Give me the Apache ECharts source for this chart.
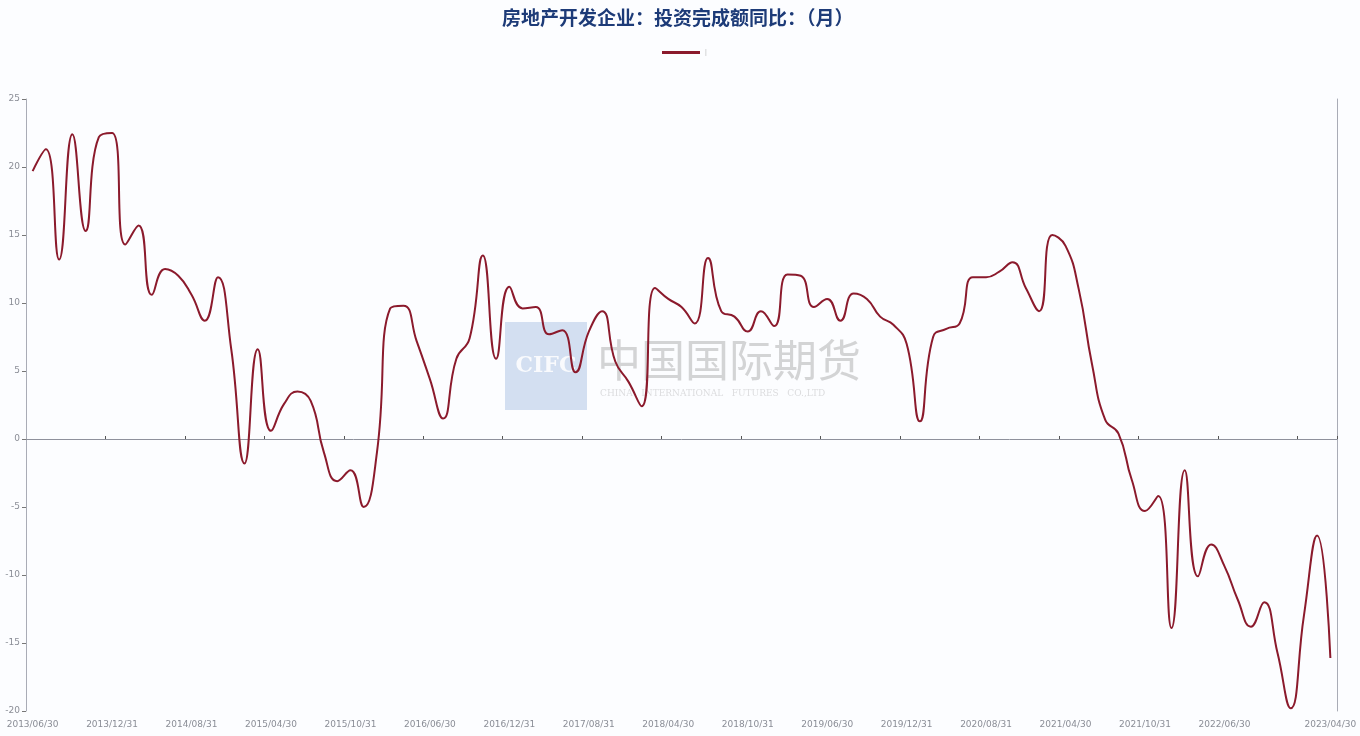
<!DOCTYPE html>
<html>
<head>
<meta charset="utf-8">
<script src="https://cdn.jsdelivr.net/npm/echarts@6/dist/echarts.min.js"></script>
<style>
html,body{margin:0;padding:0;background:#fcfdff;}
#c{width:1360px;height:736px;}
</style>
</head>
<body>
<div id="c"></div>
<script>
var titleText = '房地产开发企业：投资完成额同比：（月）';
var seriesName = '|';
var categories = [
'2013/06/30','2013/07/31','2013/08/31','2013/09/30','2013/10/31','2013/11/30','2013/12/31',
'2014/03/31','2014/04/30','2014/05/31','2014/06/30','2014/07/31','2014/08/31','2014/09/30','2014/10/31','2014/11/30','2014/12/31',
'2015/03/31','2015/04/30','2015/05/31','2015/06/30','2015/07/31','2015/08/31','2015/09/30','2015/10/31','2015/11/30','2015/12/31',
'2016/03/31','2016/04/30','2016/05/31','2016/06/30','2016/07/31','2016/08/31','2016/09/30','2016/10/31','2016/11/30','2016/12/31',
'2017/03/31','2017/04/30','2017/05/31','2017/06/30','2017/07/31','2017/08/31','2017/09/30','2017/10/31','2017/11/30','2017/12/31',
'2018/03/31','2018/04/30','2018/05/31','2018/06/30','2018/07/31','2018/08/31','2018/09/30','2018/10/31','2018/11/30','2018/12/31',
'2019/03/31','2019/04/30','2019/05/31','2019/06/30','2019/07/31','2019/08/31','2019/09/30','2019/10/31','2019/11/30','2019/12/31',
'2020/03/31','2020/04/30','2020/05/31','2020/06/30','2020/07/31','2020/08/31','2020/09/30','2020/10/31','2020/11/30','2020/12/31',
'2021/03/31','2021/04/30','2021/05/31','2021/06/30','2021/07/31','2021/08/31','2021/09/30','2021/10/31','2021/11/30','2021/12/31',
'2022/03/31','2022/04/30','2022/05/31','2022/06/30','2022/07/31','2022/08/31','2022/09/30','2022/10/31','2022/11/30','2022/12/31',
'2023/03/31','2023/04/30'
];
var values = [
19.7,21.3,13.2,22.4,15.3,22.2,22.5,
14.3,15.7,10.6,12.5,12.0,10.6,8.7,11.9,6.6,-1.8,
6.6,0.6,2.6,3.5,2.8,-1.0,-3.1,-2.3,-5.0,-1.0,
9.6,9.8,7.2,4.4,1.5,5.9,7.4,13.5,5.9,11.2,
9.6,9.7,7.7,8.0,4.9,7.9,9.4,5.7,4.2,2.4,
11.1,10.3,9.7,8.5,13.3,9.4,9.0,7.9,9.4,8.3,
12.1,12.0,9.7,10.3,8.7,10.7,10.3,9.0,8.4,7.0,
1.3,7.5,8.1,8.5,11.9,11.9,12.3,13.0,11.1,9.4,
15.0,14.2,11.0,5.5,1.4,0.4,-3.0,-5.3,-4.2,-13.9,
-2.3,-10.1,-7.75,-9.35,-11.8,-13.8,-12.0,-15.7,-19.8,-13.0,
-7.1,-16.1
];
var yMin = -20, yMax = 25, yStep = 5;
var labelEvery = 6;
var lastIdx = categories.length - 1;

var chart = echarts.init(document.getElementById('c'), null, {renderer:'canvas'});
var lineColor = '#8b1a2c';
var axisGray = '#a9acb6';
var option = {
  backgroundColor: '#fcfdff',
  animation: false,
  title: {
    text: titleText,
    left: 497, top: 3,
    textStyle: {color:'#1d3b78', fontSize:19, fontWeight:'bold', fontFamily:'Noto Sans CJK SC'}
  },
  legend: {
    left: 657, top: 44,
    icon: 'rect', itemWidth: 38, itemHeight: 3, itemGap: 4,
    textStyle: {color:'#bbb', fontSize:7},
    data: [seriesName]
  },
  grid: {left: 26, right: 23, top: 99, bottom: 25, containLabel: false},
  graphic: [
    {type:'rect', z:0, shape:{x:505, y:322, width:82, height:88}, style:{fill:'rgba(176,198,230,0.55)'}},
    {type:'text', z:0, style:{x:546, y:366, text:'CIFC', fill:'rgba(255,255,255,0.85)', font:'bold 22px "DejaVu Serif"', textAlign:'center', textVerticalAlign:'middle'}},
    {type:'text', z:0, style:{x:597, y:360, text:'中国国际期货', fill:'rgba(150,150,150,0.40)', font:'44px "Noto Sans CJK SC"', textVerticalAlign:'middle'}},
    {type:'text', z:0, style:{x:600, y:394, text:'CHINA   INTERNATIONAL   FUTURES   CO.,LTD', fill:'rgba(160,160,160,0.35)', font:'9px "DejaVu Serif"', textVerticalAlign:'middle'}}
  ],
  xAxis: [
    {
      type: 'category', data: categories, boundaryGap: true, position: 'bottom',
      axisLine: {show:false, onZero:false},
      axisTick: {show:false},
      axisLabel: {
        color:'#8a8d96', fontSize:9, margin:9, fontFamily:'DejaVu Sans',
        interval: function(i){ return (i % labelEvery === 0 && i < lastIdx - 3) || i === lastIdx; }
      }
    },
    {
      type: 'category', data: categories, boundaryGap: true,
      axisLine: {show:true, onZero:true, lineStyle:{color:'#8e919c', width:1}},
      axisTick: {show:true, length:3, lineStyle:{color:'#555'}, interval: function(i){ return i % labelEvery === 0 && i > 0; }},
      axisLabel: {show:false}
    }
  ],
  yAxis: [
    {
      type:'value', min:yMin, max:yMax, interval:yStep, position:'left',
      axisLine:{show:true, lineStyle:{color:axisGray}},
      axisTick:{show:true, length:4, lineStyle:{color:'#777'}},
      axisLabel:{color:'#8a8d96', fontSize:9, margin:6, fontFamily:'DejaVu Sans'},
      splitLine:{show:false}
    },
    {
      type:'value', min:yMin, max:yMax, interval:yStep, position:'right',
      axisLine:{show:true, lineStyle:{color:axisGray}},
      axisTick:{show:false}, axisLabel:{show:false}, splitLine:{show:false}
    }
  ],
  series: [{
    name: seriesName, type:'line', xAxisIndex:0, yAxisIndex:0,
    data: values, smooth: true, showSymbol:false, symbol:'none',
    lineStyle:{color:lineColor, width:2}, itemStyle:{color:lineColor}, z:5
  }]
};
chart.setOption(option);
</script>
</body>
</html>
